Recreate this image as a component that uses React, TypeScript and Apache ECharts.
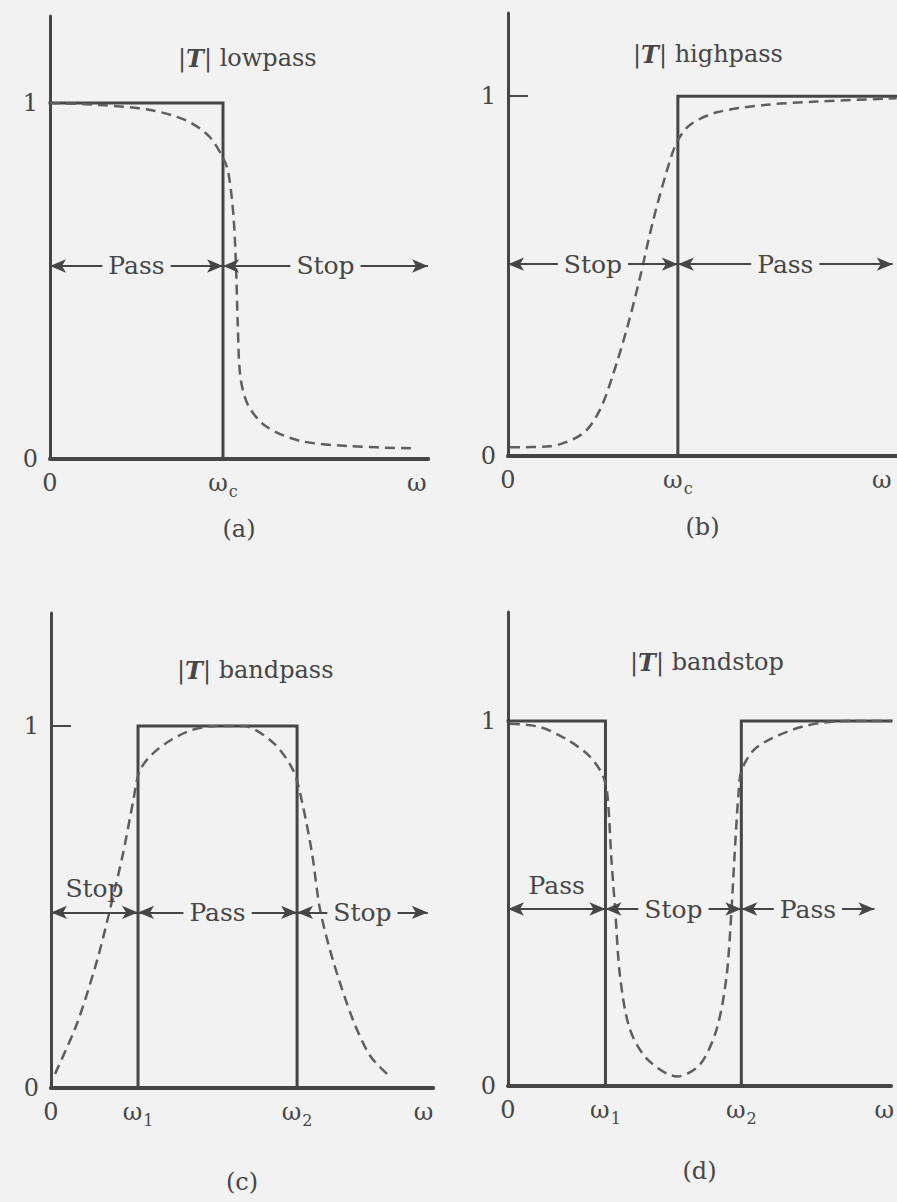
import { useEffect, useRef } from 'react';
import * as echarts from 'echarts';

const FONT = '"DejaVu Serif", "Liberation Serif", serif';
const INK = '#464646';
const DASH = '#5e5e5e';
const PAPER = '#f2f2f2';

// ---------- (a) lowpass : ω in units of ωc ----------
const lowpassIdeal: number[][] = [[0, 1], [1, 1], [1, 0], [2.185, 0]];
const lowpassReal: number[][] = [
  [0, 1.0], [0.29, 0.994], [0.58, 0.98], [0.79, 0.95], [0.92, 0.906], [1.0, 0.846],
  [1.03, 0.807], [1.06, 0.686], [1.075, 0.544], [1.085, 0.384], [1.1, 0.233],
  [1.145, 0.151], [1.25, 0.091], [1.445, 0.051], [1.734, 0.036], [2.09, 0.03],
];
const lowpassTickValues = [0, 1, 2.12];
const lowpassTickLabels = ['0', '{w|ω}{s|c}', '{w|ω}'];
const lowpassBands = [
  { from: 0, to: 1, text: 'Pass', above: false },
  { from: 1, to: 2.185, text: 'Stop', above: false },
];

// ---------- (b) highpass : ω in units of ωc ----------
const highpassIdeal: number[][] = [[0, 0], [1, 0], [1, 1], [2.29, 1]];
const highpassReal: number[][] = [
  [0.012, 0.024], [0.247, 0.027], [0.441, 0.0625], [0.541, 0.128], [0.618, 0.226],
  [0.7, 0.354], [0.776, 0.494], [0.853, 0.652], [0.935, 0.792], [0.994, 0.872],
  [1.071, 0.92], [1.229, 0.955], [1.524, 0.976], [1.818, 0.985], [2.288, 0.994],
];
const highpassTickValues = [0, 1, 2.2];
const highpassTickLabels = ['0', '{w|ω}{s|c}', '{w|ω}'];
const highpassBands = [
  { from: 0, to: 1, text: 'Stop', above: false },
  { from: 1, to: 2.265, text: 'Pass', above: false },
];

// ---------- (c) bandpass : ω in units of ω1 ----------
const bandpassIdeal: number[][] = [[0, 0], [1, 0], [1, 1], [2.828, 1], [2.828, 0], [4.39, 0]];
const bandpassReal: number[][] = [
  [0.046, 0.039], [0.299, 0.178], [0.529, 0.352], [0.678, 0.493], [0.828, 0.648],
  [0.943, 0.79], [1.023, 0.878], [1.218, 0.934], [1.563, 0.984], [1.908, 1.0],
  [2.207, 1.0], [2.552, 0.954], [2.782, 0.878], [2.885, 0.79], [3.0, 0.648],
  [3.092, 0.493], [3.241, 0.352], [3.471, 0.1875], [3.667, 0.089], [3.862, 0.039],
];
const bandpassTickValues = [0, 1, 2.828, 4.28];
const bandpassTickLabels = ['0', '{w|ω}{s|1}', '{w|ω}{s|2}', '{w|ω}'];
const bandpassBands = [
  { from: 0, to: 1, text: 'Stop', above: true },
  { from: 1, to: 2.828, text: 'Pass', above: false },
  { from: 2.828, to: 4.33, text: 'Stop', above: false },
];

// ---------- (d) bandstop : ω in units of ω1 ----------
const bandstopIdeal: number[][] = [[0, 1], [1, 1], [1, 0], [2.394, 0], [2.394, 1], [3.93, 1]];
const bandstopReal: number[][] = [
  [0.02, 0.993], [0.323, 0.984], [0.596, 0.951], [0.828, 0.906], [0.97, 0.853],
  [1.02, 0.798], [1.06, 0.625], [1.1, 0.482], [1.15, 0.3], [1.25, 0.156],
  [1.434, 0.072], [1.737, 0.026], [1.97, 0.059], [2.141, 0.156], [2.242, 0.3],
  [2.293, 0.482], [2.323, 0.625], [2.364, 0.798], [2.394, 0.863], [2.515, 0.919],
  [2.717, 0.954], [3.05, 0.987], [3.455, 1.0], [3.93, 1.0],
];
const bandstopTickValues = [0, 1, 2.394, 3.86];
const bandstopTickLabels = ['0', '{w|ω}{s|1}', '{w|ω}{s|2}', '{w|ω}'];
const bandstopBands = [
  { from: 0, to: 1, text: 'Pass', above: true },
  { from: 1, to: 2.394, text: 'Stop', above: false },
  { from: 2.394, to: 3.76, text: 'Pass', above: false },
];

const yTickValues = [0, 1];
const yTickLabels = ['0', '1'];

// ---------- layout (pixels) ----------
const panels = [
  {
    name: 'lowpass', caption: '(a)', ideal: lowpassIdeal, real: lowpassReal,
    ticks: lowpassTickValues, labels: lowpassTickLabels, bands: lowpassBands, level: 0.542,
    grid: { left: 50, top: 16, width: 378, height: 443 }, xMax: 2.185, yMax: 1.244,
    captionGap: 58, titleLeft: 178, titleTop: 46,
  },
  {
    name: 'highpass', caption: '(b)', ideal: highpassIdeal, real: highpassReal,
    ticks: highpassTickValues, labels: highpassTickLabels, bands: highpassBands, level: 0.533,
    grid: { left: 508, top: 13, width: 389, height: 443 }, xMax: 2.29, yMax: 1.231,
    captionGap: 59, titleLeft: 633, titleTop: 42,
  },
  {
    name: 'bandpass', caption: '(c)', ideal: bandpassIdeal, real: bandpassReal,
    ticks: bandpassTickValues, labels: bandpassTickLabels, bands: bandpassBands, level: 0.485,
    grid: { left: 51, top: 613, width: 382, height: 475 }, xMax: 4.39, yMax: 1.312,
    captionGap: 82, titleLeft: 177, titleTop: 658,
  },
  {
    name: 'bandstop', caption: '(d)', ideal: bandstopIdeal, real: bandstopReal,
    ticks: bandstopTickValues, labels: bandstopTickLabels, bands: bandstopBands, level: 0.485,
    grid: { left: 508, top: 612, width: 389, height: 474 }, xMax: 3.93, yMax: 1.299,
    captionGap: 73, titleLeft: 630, titleTop: 650,
  },
];

const labelRich = {
  w: { fontSize: 24, fontFamily: FONT, color: INK, padding: [0, 0, 8, 0] },
  s: { fontSize: 16, fontFamily: FONT, color: INK, padding: [8, 0, 0, 1] },
};

function pick(values: number[], labels: string[]) {
  return (v: number) => {
    for (let i = 0; i < values.length; i++) {
      if (Math.abs(values[i] - v) < 1e-6) return labels[i];
    }
    return '';
  };
}

function buildOption() {
  const grid = panels.map((p) => ({ ...p.grid, containLabel: false }));
  const xAxis = panels.map((p, i) => ({
    type: 'value',
    gridIndex: i,
    min: 0,
    max: p.xMax,
    axisLine: { show: true, lineStyle: { color: INK, width: 4 } },
    axisTick: { show: false },
    splitLine: { show: false },
    axisLabel: {
      customValues: p.ticks,
      formatter: pick(p.ticks, p.labels),
      margin: 12,
      color: INK,
      fontSize: 24,
      fontFamily: FONT,
      rich: labelRich,
    },
    name: p.caption,
    nameLocation: 'middle',
    nameGap: p.captionGap,
    nameTextStyle: { color: INK, fontSize: 24, fontFamily: FONT, verticalAlign: 'top' },
  }));
  const yAxis = panels.map((p, i) => ({
    type: 'value',
    gridIndex: i,
    min: 0,
    max: p.yMax,
    axisLine: { show: true, lineStyle: { color: INK, width: 3 } },
    axisTick: { show: true, inside: true, length: 20, customValues: [1], lineStyle: { color: INK, width: 2 } },
    splitLine: { show: false },
    axisLabel: {
      customValues: yTickValues,
      formatter: pick(yTickValues, yTickLabels),
      margin: 12,
      color: INK,
      fontSize: 24,
      fontFamily: FONT,
    },
  }));
  const series: any[] = [];
  panels.forEach((p, i) => {
    series.push({
      type: 'line',
      name: p.name + ' ideal',
      xAxisIndex: i,
      yAxisIndex: i,
      data: p.ideal,
      showSymbol: false,
      clip: false,
      z: 3,
      lineStyle: { color: INK, width: 3, cap: 'square', join: 'miter' },
      emphasis: { disabled: true },
      markLine: {
        silent: true,
        animation: false,
        symbol: ['arrow', 'arrow'],
        symbolSize: [10, 16],
        lineStyle: { color: INK, width: 2, type: 'solid' },
        emphasis: { disabled: true },
        label: { show: false },
        data: p.bands.map((b) => [
          { coord: [b.from, p.level] },
          { coord: [b.to, p.level] },
        ]),
      },
    });
    series.push({
      type: 'line',
      name: p.name + ' actual',
      xAxisIndex: i,
      yAxisIndex: i,
      data: p.real,
      showSymbol: false,
      smooth: 0.3,
      clip: false,
      z: 4,
      lineStyle: { color: DASH, width: 2.5, type: [10, 6] },
      emphasis: { disabled: true },
    });
    series.push({
      type: 'scatter',
      name: p.name + ' bands',
      xAxisIndex: i,
      yAxisIndex: i,
      data: [],
      z: 6,
      silent: true,
      markPoint: {
        silent: true,
        animation: false,
        symbol: 'rect',
        symbolSize: [1, 1],
        itemStyle: { color: 'rgba(0,0,0,0)' },
        emphasis: { disabled: true },
        data: p.bands.map((b) => ({
          coord: [(b.from + b.to) / 2, p.level],
          label: {
            show: true,
            formatter: b.text,
            position: b.above ? 'top' : 'inside',
            distance: 11,
            color: INK,
            fontSize: 25,
            fontFamily: FONT,
            backgroundColor: b.above ? 'transparent' : PAPER,
            padding: [0, 6],
          },
        })),
      },
    });
  });
  const title = panels.map((p) => ({
    text: '{n||}{t|T}{n|| ' + p.name + '}',
    left: p.titleLeft,
    top: p.titleTop,
    padding: 0,
    textStyle: {
      fontSize: 24,
      fontFamily: FONT,
      fontWeight: 'normal',
      color: INK,
      rich: {
        n: { fontSize: 24, fontFamily: FONT, color: INK },
        t: { fontSize: 24, fontFamily: FONT, color: INK, fontStyle: 'italic', fontWeight: 'bold' },
      },
    },
  }));
  return {
    animation: false,
    backgroundColor: PAPER,
    title,
    grid,
    xAxis,
    yAxis,
    series,
  };
}

export default function App() {
  const ref = useRef<HTMLDivElement>(null);
  useEffect(() => {
    if (!ref.current) return;
    const chart = echarts.init(ref.current, undefined, { renderer: 'svg' });
    chart.setOption(buildOption() as any);
    return () => chart.dispose();
  }, []);
  return (
    <div
      ref={ref}
      style={{ position: 'fixed', left: 0, top: 0, width: 897, height: 1202, background: PAPER }}
    />
  );
}
